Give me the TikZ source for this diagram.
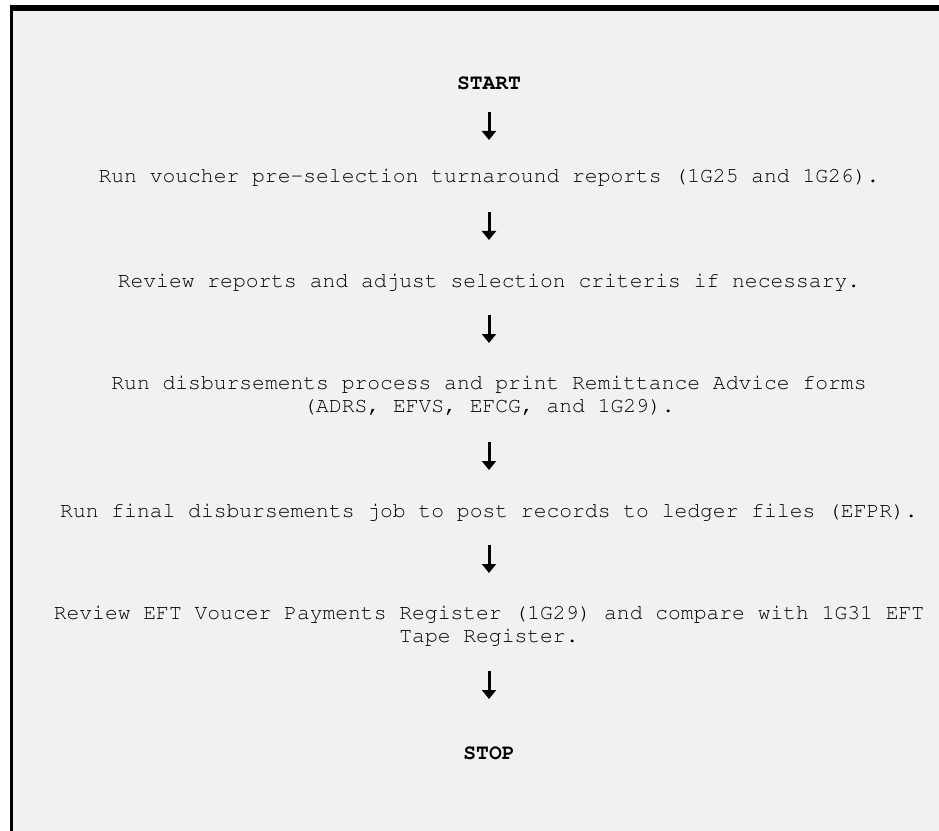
\documentclass[tikz,border=0pt]{standalone}
\usepackage[T1]{fontenc}
\usetikzlibrary{arrows.meta}
\definecolor{bggray}{HTML}{F1F1F1}
\begin{document}
\begin{tikzpicture}[x=0.75pt,y=-0.75pt,
  txt/.style={inner sep=0pt, anchor=base, align=center,
    font=\fontfamily{pcr}\fontsize{16pt}{17pt}\selectfont},
  term/.style={txt, font=\fontfamily{pcr}\bfseries\fontsize{16pt}{17pt}\selectfont},
  flowarrow/.style={line width=2.25pt, -{Triangle[width=10.5pt,length=6.75pt]}}]
\useasboundingbox (0,0) rectangle (939,831);
\fill[white] (0,0) rectangle (939,831);
\fill[bggray] (10,5) rectangle (939,831);
\fill[black] (10,5) rectangle (939,11);
\fill[black] (10,5) rectangle (13,831);

\node[term] (start) at (489,89.5) {START};
\node[txt] (s1) at (489,183) {Run voucher pre-selection turnaround reports (1G25 and 1G26).};
\node[txt] (s2) at (489,287) {Review reports and adjust selection criteris if necessary.};
\node[txt] (s3) at (489,412) {Run disbursements process and print Remittance Advice forms\\(ADRS, EFVS, EFCG, and 1G29).};
\node[txt] (s4) at (489,517) {Run final disbursements job to post records to ledger files (EFPR).};
\node[txt] (s5) at (489,642) {Review EFT Voucer Payments Register (1G29) and compare with 1G31 EFT\\Tape Register.};
\node[term] (stop) at (489,759.5) {STOP};

\coordinate (a0t) at (489,112); \coordinate (a0b) at (489,140);
\coordinate (a1t) at (489,212); \coordinate (a1b) at (489,240);
\coordinate (a2t) at (489,315); \coordinate (a2b) at (489,343);
\coordinate (a3t) at (489,442); \coordinate (a3b) at (489,470);
\coordinate (a4t) at (489,545); \coordinate (a4b) at (489,573);
\coordinate (a5t) at (489,671); \coordinate (a5b) at (489,699);
\draw[flowarrow] (a0t) -- (a0b);
\draw[flowarrow] (a1t) -- (a1b);
\draw[flowarrow] (a2t) -- (a2b);
\draw[flowarrow] (a3t) -- (a3b);
\draw[flowarrow] (a4t) -- (a4b);
\draw[flowarrow] (a5t) -- (a5b);
\end{tikzpicture}
\end{document}
